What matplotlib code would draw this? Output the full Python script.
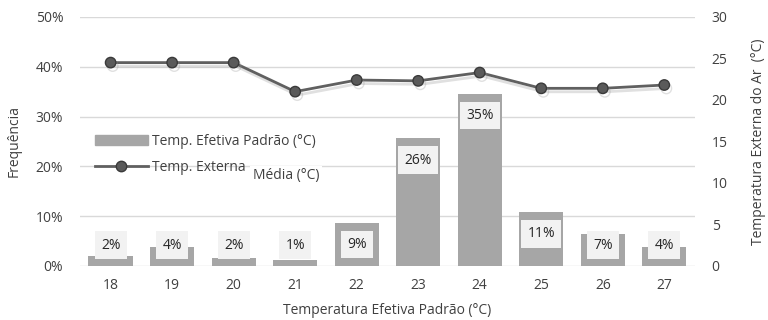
import matplotlib
matplotlib.use('Agg')
import matplotlib.pyplot as plt
import matplotlib.patheffects as pe
from matplotlib.patches import Patch
from matplotlib.lines import Line2D

# data
temps = ['18', '19', '20', '21', '22', '23', '24', '25', '26', '27']
freq = [2.0, 3.8, 1.6, 1.2, 8.7, 25.6, 34.6, 10.8, 6.4, 3.8]
freq_labels = ['2%', '4%', '2%', '1%', '9%', '26%', '35%', '11%', '7%', '4%']
temp_ext = [24.5, 24.5, 24.5, 21.0, 22.4, 22.3, 23.3, 21.4, 21.4, 21.8]

plt.rcParams['font.family'] = ['Open Sans', 'DejaVu Sans']
plt.rcParams['font.size'] = 10

fig = plt.figure(figsize=(7.68, 3.2), dpi=100)
ax = fig.add_axes([0.104, 0.169, 0.801, 0.778])
ax2 = ax.twinx()

x = list(range(len(temps)))
ax.bar(x, freq, width=0.72, color='#a6a6a6', zorder=2)
for xi, v, lab in zip(x, freq, freq_labels):
    yc = max(v - 4.35, 4.2)
    ax.text(xi, yc, lab, ha='center', va='center', fontsize=10, color='#262626', zorder=4,
            bbox=dict(boxstyle='square,pad=0.45', fc='#f2f2f2', ec='none'))

ax.set_ylim(0, 50)
ax.set_xlim(-0.5, len(temps) - 0.5)
ax.set_yticks([0, 10, 20, 30, 40, 50])
ax.set_yticklabels([f'{t}%' for t in [0, 10, 20, 30, 40, 50]])
ax.set_xticks(x)
ax.set_xticklabels(temps)
ax.grid(axis='y', color='#d9d9d9', lw=1, zorder=0)
ax.set_axisbelow(True)
ax.tick_params(length=0, colors='#404040', pad=12)
ax.tick_params(axis='x', pad=9)
for s in ax.spines.values():
    s.set_visible(False)
ax.set_ylabel('Frequência', color='#404040', labelpad=10)
ax.set_xlabel('Temperatura Efetiva Padrão (°C)', color='#404040', labelpad=7)

ax2.plot(x, temp_ext, color='#606060', lw=2, marker='o', ms=7.5,
         mfc='#5a5a5a', mec='#3a3a3a', zorder=3,
         path_effects=[pe.SimpleLineShadow(offset=(1.5, -2.5), shadow_color='#999999', alpha=0.3),
                       pe.Normal()])
ax2.set_ylim(0, 30)
ax2.set_yticks([0, 5, 10, 15, 20, 25, 30])
ax2.tick_params(length=0, colors='#404040', pad=12)
for s in ax2.spines.values():
    s.set_visible(False)
ax2.set_ylabel('Temperatura Externa do Ar  (°C)', color='#404040', labelpad=17)

handles = [Patch(color='#a6a6a6'),
           Line2D([0], [0], color='#606060', lw=2, marker='o', ms=7.5, mfc='#5a5a5a', mec='#3a3a3a')]
leg = ax.legend(handles, ['Temp. Efetiva Padrão (°C)', 'Temp. Externa'],
                loc='upper left', bbox_to_anchor=(0.005, 0.58), frameon=False,
                handlelength=3.75, labelspacing=0.8, fontsize=10, handletextpad=0.35)
for t in leg.get_texts():
    t.set_color('#404040')
ax.text(0.281, 0.362, 'Média (°C)', transform=ax.transAxes, fontsize=10, color='#404040',
        va='center', ha='left', zorder=5,
        bbox=dict(boxstyle='square,pad=0.2', fc='white', ec='none'))

fig.savefig('out.png', dpi=100)
